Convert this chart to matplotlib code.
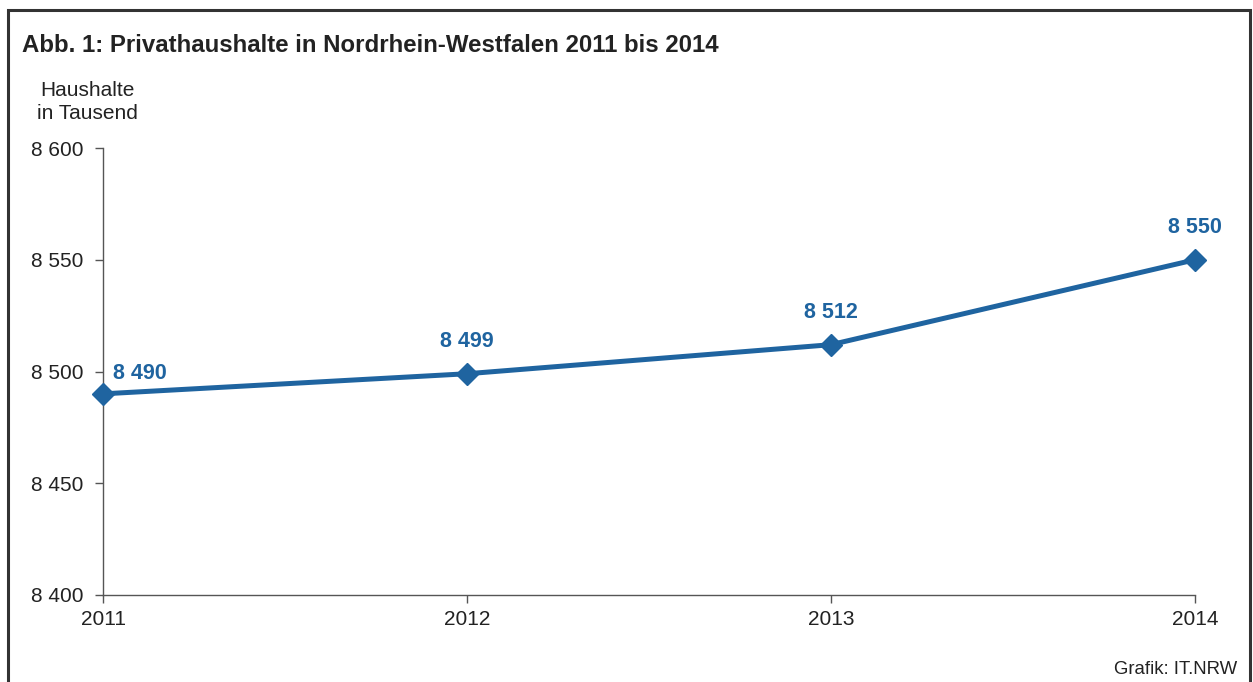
import matplotlib
matplotlib.use("Agg")
import matplotlib.pyplot as plt
from matplotlib.patches import Rectangle

plt.rcParams['font.family'] = ['Liberation Sans', 'DejaVu Sans']

years = ['2011', '2012', '2013', '2014']
households = [8490, 8499, 8512, 8550]
yticks = [8400, 8450, 8500, 8550, 8600]

line_color = '#1f64a0'
text_color = '#222222'

fig = plt.figure(figsize=(12.53, 6.82), dpi=100)
W, H = 1253.0, 682.0

# outer frame (bottom edge runs off the picture)
fig.patches.append(Rectangle((8 / W, -0.05), 1242 / W, 1 - 10 / H + 0.05,
                             transform=fig.transFigure, fill=False,
                             edgecolor='#333333', linewidth=2.2))

ax = fig.add_axes([103 / W, 1 - 595 / H, (1195 - 103) / W, (595 - 148) / H])
x = list(range(len(years)))
ax.plot(x, households, color=line_color, linewidth=3.6, marker='D',
        markersize=11, clip_on=False, zorder=3)

ax.set_xlim(0, len(years) - 1)
ax.set_ylim(8400, 8600)
ax.set_xticks(x)
ax.set_xticklabels(years)
ax.set_yticks(yticks)
ax.set_yticklabels([f"{v:,}".replace(',', ' ') for v in yticks])

for s in ['top', 'right']:
    ax.spines[s].set_visible(False)
for s in ['left', 'bottom']:
    ax.spines[s].set_color('#555555')
    ax.spines[s].set_linewidth(1.0)
ax.tick_params(axis='both', colors='#555555', labelcolor=text_color,
               labelsize=15, length=6, width=1.0, direction='out')
ax.tick_params(axis='x', pad=5)
ax.tick_params(axis='y', pad=8)

# data labels
for i, v in enumerate(households):
    lbl = f"{v:,}".replace(',', ' ')
    if i == 0:
        ax.annotate(lbl, (i, v), xytext=(7, 14.5), textcoords='offset points',
                    ha='left', va='center', color=line_color,
                    fontsize=15.5, fontweight='bold')
    else:
        ax.annotate(lbl, (i, v), xytext=(0, 23.5), textcoords='offset points',
                    ha='center', va='center', color=line_color,
                    fontsize=15.5, fontweight='bold')

fig.text(22 / W, 1 - 45 / H, 'Abb. 1: Privathaushalte in Nordrhein-Westfalen 2011 bis 2014',
         ha='left', va='center', fontsize=17.3, fontweight='bold', color=text_color)
fig.text(87 / W, 1 - 102 / H, 'Haushalte\nin Tausend', ha='center', va='center',
         fontsize=15, color=text_color, linespacing=1.3)
fig.text(1237 / W, 1 - 670 / H, 'Grafik: IT.NRW', ha='right', va='center',
         fontsize=13.4, color=text_color)

fig.savefig('out.png', dpi=100)
